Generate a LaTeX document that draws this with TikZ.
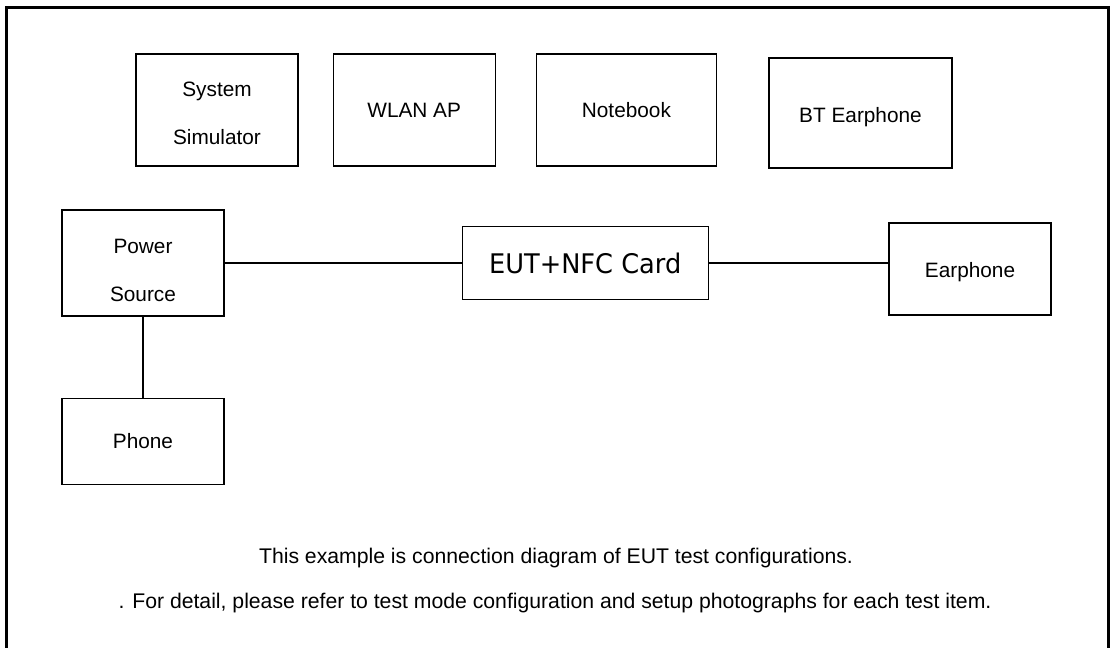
\documentclass[tikz,border=0pt]{standalone}
\usepackage{fontspec}
\setmainfont{Liberation Sans}
\newfontfamily\eutfont{DejaVu Sans}[FakeStretch=0.95]
\usetikzlibrary{positioning}
\tikzstyle{unit}    = [rectangle, draw=black, line width=1.2pt,
    inner sep=0pt, align=center, font=\fontsize{20.8}{48}\selectfont]
\tikzstyle{topunit} = [unit, minimum width=162pt, minimum height=112pt]
\tikzstyle{wire}    = [line width=1.5pt]
\tikzstyle{remark}  = [anchor=base, inner sep=0pt, font=\fontsize{21.2}{25}\selectfont]

\begin{document}
\begin{tikzpicture}[x=1pt, y=1pt]
  \useasboundingbox (0,0) rectangle (1112,648);

  % Frame
  \draw[line width=3pt] (6.5,-2) -- (6.5,640.5) -- (1108.5,640.5) -- (1108.5,-2);

  % Top row
  \node[topunit] (sim) at (217,538) {\rule{0pt}{22pt}System\\Simulator};
  \node[topunit, right=34pt of sim] (wlan) {WLAN AP};
  \node[topunit, minimum width=180pt, right=40pt of wlan] (nb) {Notebook};
  \node[topunit, minimum width=183pt, minimum height=110pt] (bt) at (860.5,535) {\rule{0pt}{23pt}BT Earphone};

  % Middle row
  \node[unit, minimum width=162pt, minimum height=106pt] (pwr) at (143,385) {\rule{0pt}{29pt}Power\\Source};
  \node[unit, minimum width=246pt, minimum height=73pt, right=237pt of pwr] (eut)
       {\eutfont\fontsize{27}{30}\selectfont EUT+NFC Card};
  \node[unit, minimum width=162pt, minimum height=92pt] (ear) at (970,379) {\rule{0pt}{22pt}Earphone};
  \node[unit, minimum width=162pt, minimum height=86pt, below=81pt of pwr] (phone) {Phone};

  % Notes
  \node[remark] (rm1) at (556,84) {This example is connection diagram of EUT test configurations.};
  \node[remark] (rm2) at (555,39) {. For detail, please refer to test mode configuration and setup photographs for each test item.};

  \draw[wire] (pwr) -- (eut);
  \draw[wire] (eut.east) -- (eut.east -| ear.west);
  \draw[wire] (pwr) -- (phone);
\end{tikzpicture}
\end{document}
